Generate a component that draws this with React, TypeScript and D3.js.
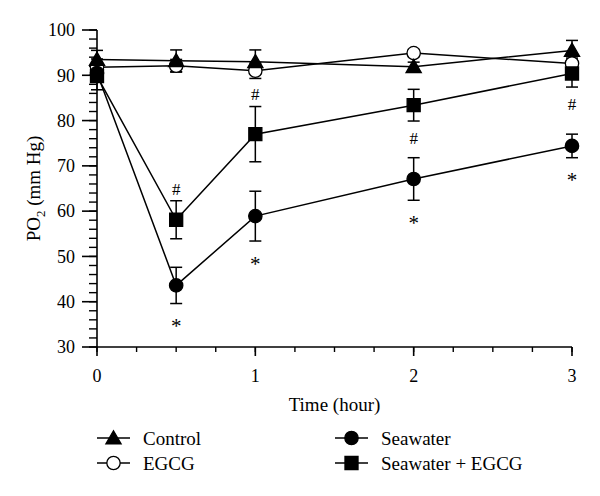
import React, { useEffect, useRef } from 'react';
import * as d3 from 'd3';

const times = [0, 0.5, 1, 2, 3];

const controlMean = [93.5, 93.2, 93.0, 91.9, 95.5];
const controlErr = [2.0, 2.4, 2.6, 1.0, 2.2];

const egcgMean = [91.8, 92.1, 91.0, 94.9, 92.6];
const egcgErr = [1.8, 1.4, 1.7, 0.8, 1.2];

const seawaterMean = [90.5, 43.6, 58.9, 67.1, 74.4];
const seawaterErr = [2.0, 4.0, 5.5, 4.7, 2.6];

const comboMean = [89.8, 58.1, 77.0, 83.4, 90.4];
const comboErr = [3.0, 4.2, 6.1, 3.5, 3.0];

// annotation marks: '#' on Seawater + EGCG, '*' on Seawater
const hashPos = ['', 'above', 'above', 'below', 'below'];
const starPos = ['', 'below', 'below', 'below', 'below'];

const yTicks = [30, 40, 50, 60, 70, 80, 90, 100];
const xTicks = [0, 1, 2, 3];

const FONT = '"Liberation Serif", "Times New Roman", serif';

export default function App() {
  const svgRef = useRef<SVGSVGElement>(null);

  useEffect(() => {
    const svg = d3.select(svgRef.current);
    svg.selectAll('*').remove();

    const margin = { top: 30, left: 97 };
    const innerWidth = 475;
    const innerHeight = 317;

    const x = d3.scaleLinear().domain([0, 3]).range([0, innerWidth]);
    const y = d3.scaleLinear().domain([30, 100]).range([innerHeight, 0]);

    const g = svg.append('g').attr('transform', `translate(${margin.left},${margin.top})`);

    // y axis with minor ticks
    const yAxis = g.append('g');
    yAxis.append('line')
      .attr('x1', 0).attr('x2', 0).attr('y1', 0).attr('y2', innerHeight)
      .attr('stroke', '#000').attr('stroke-width', 1.6);
    yAxis.selectAll('.minor')
      .data(d3.range(30, 100.1, 2))
      .join('line')
      .attr('x1', -8).attr('x2', 0)
      .attr('y1', d => y(d)).attr('y2', d => y(d))
      .attr('stroke', '#000').attr('stroke-width', 1.4);
    yAxis.selectAll('.major')
      .data(yTicks)
      .join('line')
      .attr('x1', -15).attr('x2', 0)
      .attr('y1', d => y(d)).attr('y2', d => y(d))
      .attr('stroke', '#000').attr('stroke-width', 1.6);
    yAxis.selectAll('text')
      .data(yTicks)
      .join('text')
      .attr('x', -22).attr('y', d => y(d))
      .attr('dy', '0.35em')
      .attr('text-anchor', 'end')
      .style('font-family', FONT).style('font-size', '18px')
      .text(d => d);

    // x axis with minor ticks
    const xAxis = g.append('g').attr('transform', `translate(0,${innerHeight})`);
    xAxis.append('line')
      .attr('x1', 0).attr('x2', innerWidth)
      .attr('stroke', '#000').attr('stroke-width', 1.6);
    xAxis.selectAll('.minor')
      .data(d3.range(0, 3.01, 0.25))
      .join('line')
      .attr('x1', d => x(d)).attr('x2', d => x(d))
      .attr('y1', 0).attr('y2', 5)
      .attr('stroke', '#000').attr('stroke-width', 1.4);
    xAxis.selectAll('.major')
      .data(xTicks)
      .join('line')
      .attr('x1', d => x(d)).attr('x2', d => x(d))
      .attr('y1', 0).attr('y2', 9)
      .attr('stroke', '#000').attr('stroke-width', 1.6);
    xAxis.selectAll('text')
      .data(xTicks)
      .join('text')
      .attr('x', d => x(d)).attr('y', 29)
      .attr('dy', '0.35em')
      .attr('text-anchor', 'middle')
      .style('font-family', FONT).style('font-size', '18px')
      .text(d => d);

    // axis titles
    svg.append('text')
      .attr('x', margin.left + innerWidth / 2)
      .attr('y', 411)
      .attr('text-anchor', 'middle')
      .style('font-family', FONT).style('font-size', '19px')
      .text('Time (hour)');

    const yTitle = svg.append('text')
      .attr('transform', `translate(40,${margin.top + innerHeight / 2}) rotate(-90)`)
      .attr('text-anchor', 'middle')
      .style('font-family', FONT).style('font-size', '19px');
    yTitle.append('tspan').text('PO');
    yTitle.append('tspan').attr('dy', 5).style('font-size', '13px').text('2');
    yTitle.append('tspan').attr('dy', -5).text(' (mm Hg)');

    const series = [
      { name: 'EGCG', mean: egcgMean, err: egcgErr, shape: 'open' },
      { name: 'Seawater', mean: seawaterMean, err: seawaterErr, shape: 'circle' },
      { name: 'Seawater + EGCG', mean: comboMean, err: comboErr, shape: 'square' },
      { name: 'Control', mean: controlMean, err: controlErr, shape: 'triangle' },
    ];

    const line = d3.line<number>()
      .x((_, i) => x(times[i]))
      .y(d => y(d));

    const symbolPath = (shape: string) => {
      if (shape === 'triangle') return d3.symbol(d3.symbolTriangle, 100)();
      if (shape === 'square') return d3.symbol(d3.symbolSquare, 170)();
      return d3.symbol(d3.symbolCircle, 140)();
    };

    // lines
    series.forEach(s => {
      g.append('path')
        .datum(s.mean)
        .attr('d', line)
        .attr('fill', 'none')
        .attr('stroke', '#000')
        .attr('stroke-width', 1.5);
    });

    // error bars
    series.forEach(s => {
      const eb = g.append('g');
      s.mean.forEach((m, i) => {
        const cx = x(times[i]);
        const lo = y(m - s.err[i]);
        const hi = y(m + s.err[i]);
        eb.append('line').attr('x1', cx).attr('x2', cx).attr('y1', lo).attr('y2', hi)
          .attr('stroke', '#000').attr('stroke-width', 1.5);
        [lo, hi].forEach(yy => {
          eb.append('line').attr('x1', cx - 6).attr('x2', cx + 6).attr('y1', yy).attr('y2', yy)
            .attr('stroke', '#000').attr('stroke-width', 1.5);
        });
      });
    });

    // markers
    series.forEach(s => {
      g.selectAll(null)
        .data(s.mean)
        .join('path')
        .attr('transform', (d, i) => `translate(${x(times[i])},${y(d) + (s.shape === 'triangle' ? 1.5 : 0)})`)
        .attr('d', symbolPath(s.shape))
        .attr('fill', s.shape === 'open' ? '#fff' : '#000')
        .attr('stroke', '#000')
        .attr('stroke-width', 1.3);
    });

    // significance marks
    const mark = (sym: string, pos: string[], mean: number[], err: number[], size: number) => {
      pos.forEach((p, i) => {
        if (!p) return;
        const cx = x(times[i]);
        const yy = p === 'above' ? y(mean[i] + err[i]) - 12 : y(mean[i] - err[i]) + 17;
        g.append('text')
          .attr('x', cx).attr('y', yy)
          .attr('text-anchor', 'middle')
          .attr('dy', sym === '*' ? '0.6em' : '0.35em')
          .attr('fill', '#000')
          .style('font-family', FONT).style('font-size', `${size}px`)
          .text(sym);
      });
    };
    mark('#', hashPos, comboMean, comboErr, 17);
    mark('*', starPos, seawaterMean, seawaterErr, 21);

    // legend
    const legendItems = [
      { name: 'Control', shape: 'triangle', lx: 97, ly: 438 },
      { name: 'EGCG', shape: 'open', lx: 97, ly: 463 },
      { name: 'Seawater', shape: 'circle', lx: 335, ly: 438 },
      { name: 'Seawater + EGCG', shape: 'square', lx: 335, ly: 463 },
    ];
    const legend = svg.append('g');
    legendItems.forEach(it => {
      const lg = legend.append('g').attr('transform', `translate(${it.lx},${it.ly})`);
      lg.append('line').attr('x1', 0).attr('x2', 33)
        .attr('stroke', '#000').attr('stroke-width', 1.5);
      lg.append('path')
        .attr('transform', `translate(16.5,${it.shape === 'triangle' ? 1.5 : 0})`)
        .attr('d', symbolPath(it.shape))
        .attr('fill', it.shape === 'open' ? '#fff' : '#000')
        .attr('stroke', '#000').attr('stroke-width', 1.3);
      lg.append('text')
        .attr('x', 46).attr('dy', '0.35em')
        .style('font-family', FONT).style('font-size', '19px')
        .text(it.name);
    });
  }, []);

  return (
    <svg
      ref={svgRef}
      width={600}
      height={496}
      style={{ position: 'absolute', left: 0, top: 0, background: '#fff' }}
    />
  );
}
